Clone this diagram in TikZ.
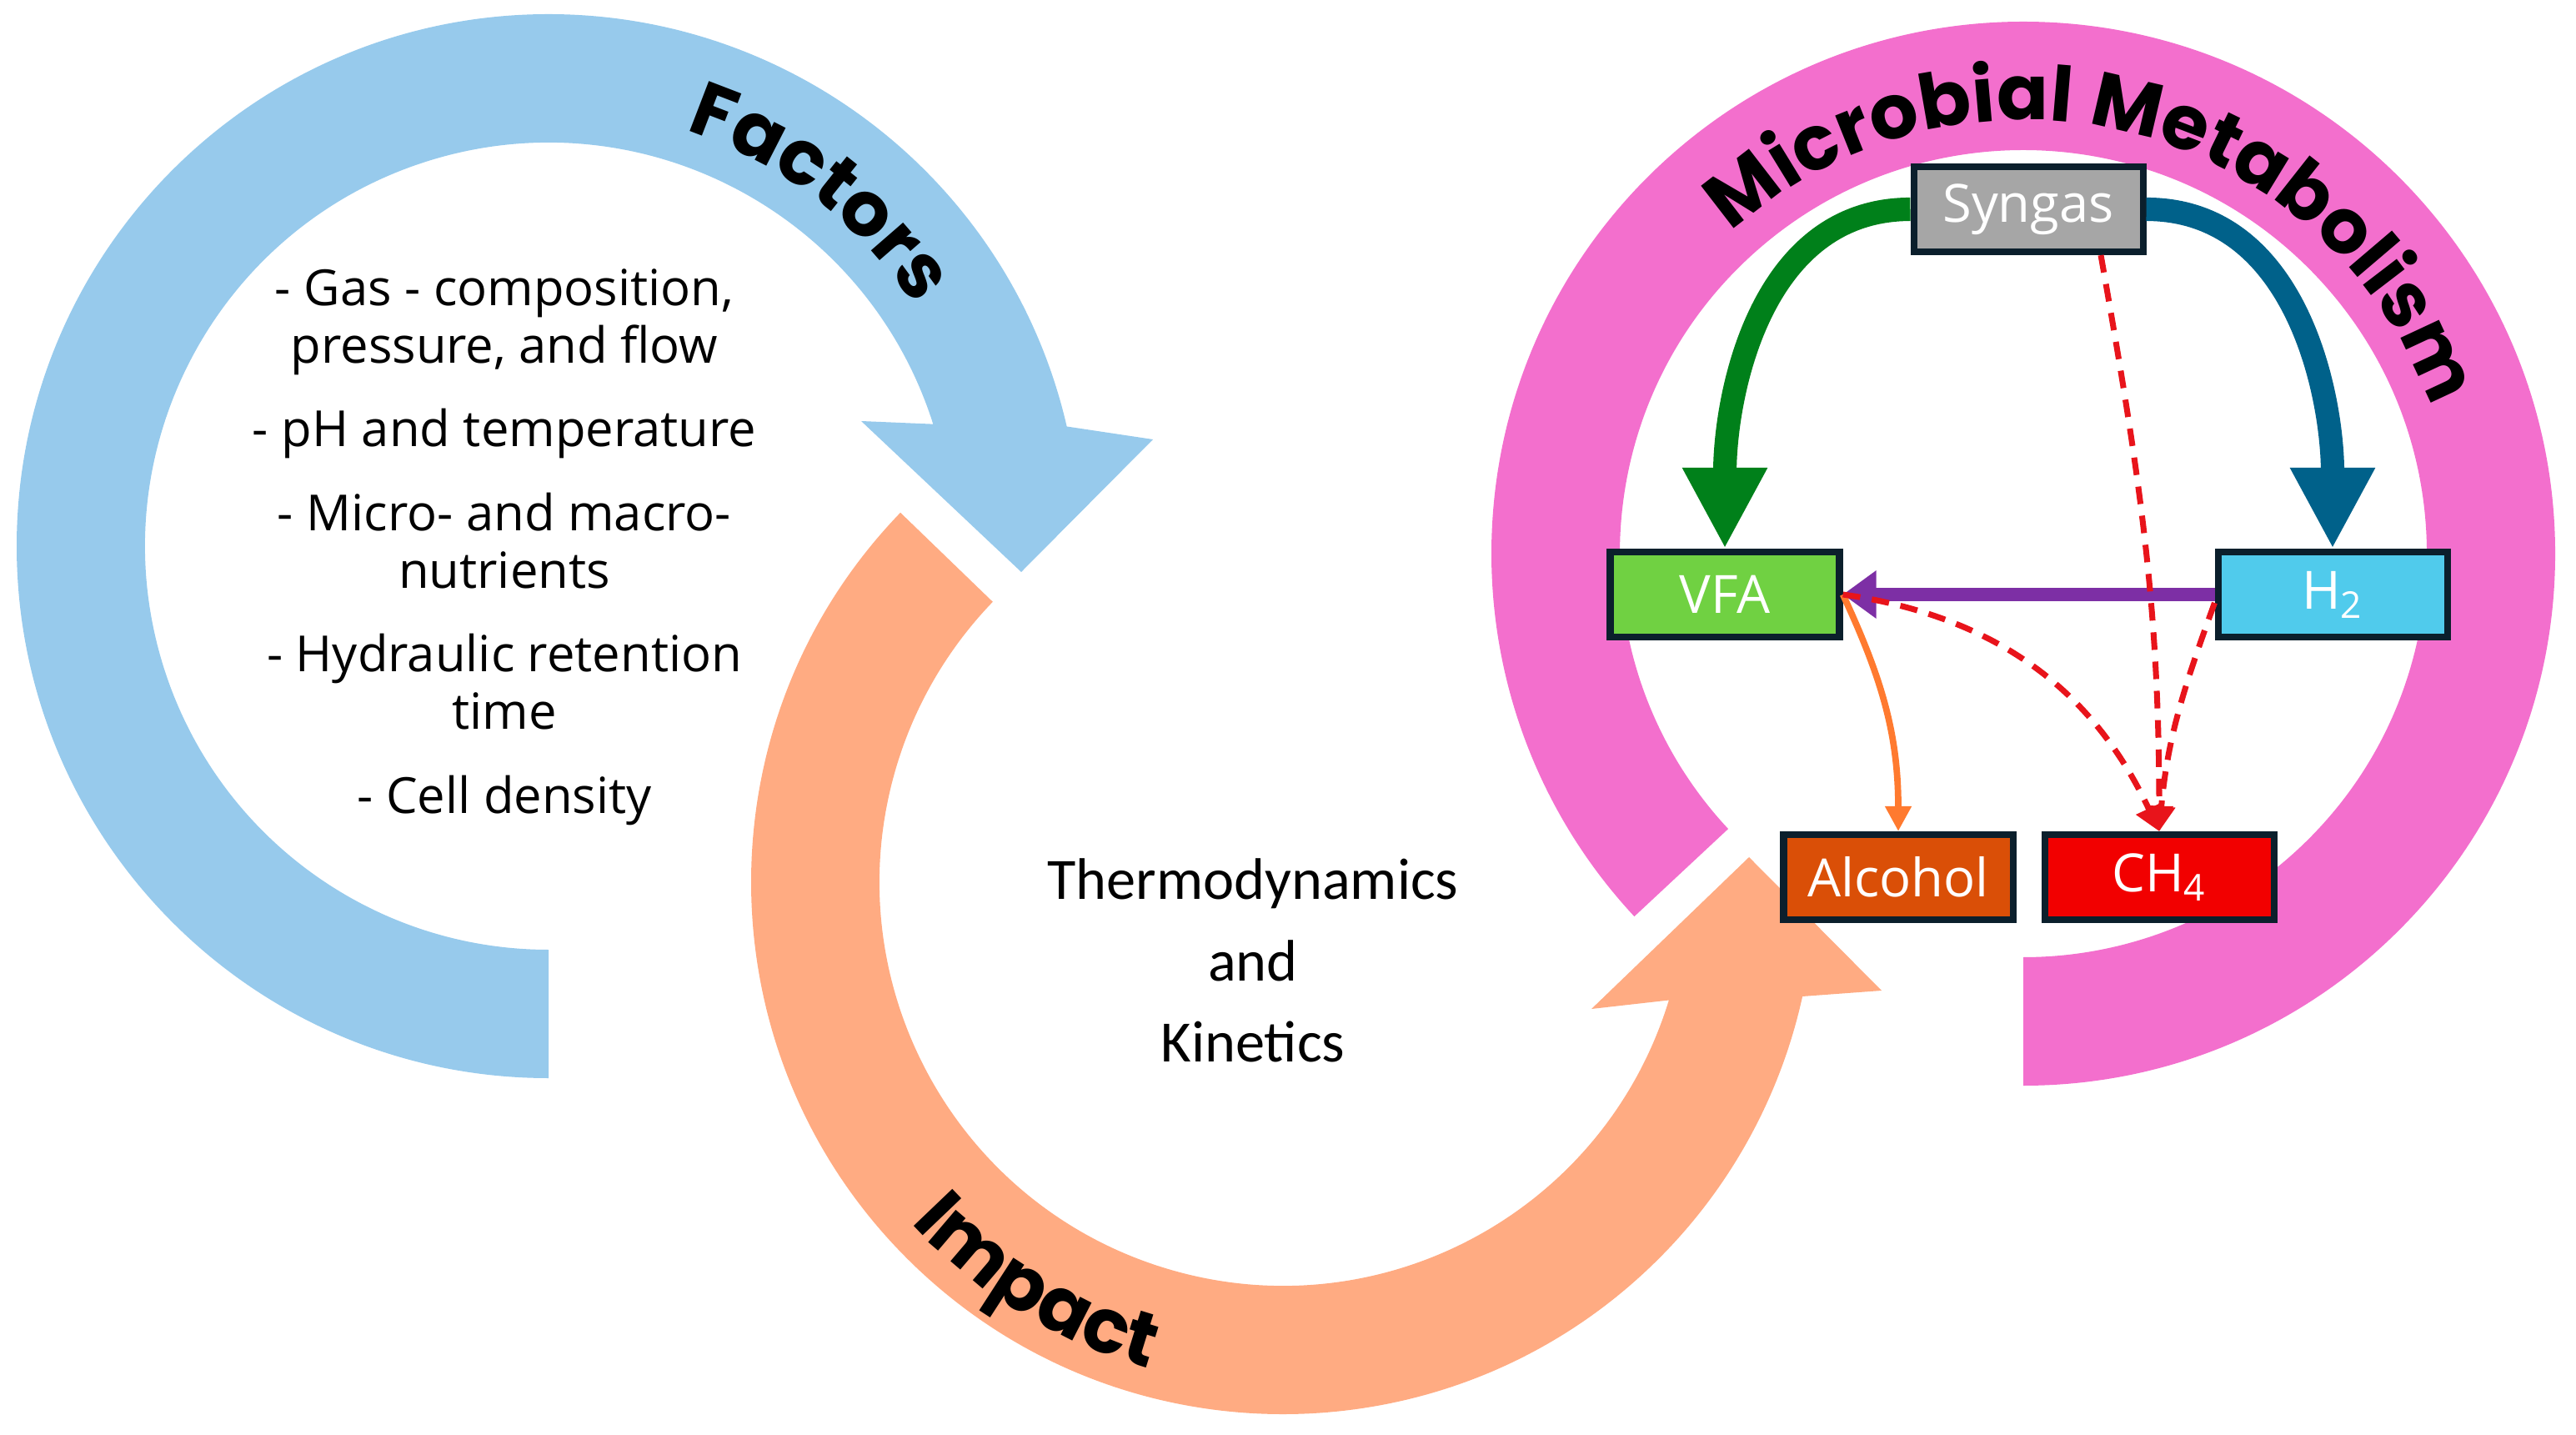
\documentclass[tikz,border=0pt]{standalone}
\usepackage{fontspec}
\setmainfont{Open Sans}
\newfontfamily\titlefont{Poppins}
\newfontfamily\narrowfont{Carlito}
\usepackage{tikz}
\usetikzlibrary{arrows.meta,positioning,calc,decorations.text}

\definecolor{factorblue}{HTML}{97CAEC}
\definecolor{impactorange}{HTML}{FFAB82}
\definecolor{metabpink}{HTML}{F36FCD}
\definecolor{boxline}{HTML}{0B1F2C}
\definecolor{syngasgray}{HTML}{A6A6A6}
\definecolor{vfagreen}{HTML}{70D142}
\definecolor{htwoblue}{HTML}{50CBEC}
\definecolor{alcoholorange}{HTML}{DA4F07}
\definecolor{methanered}{HTML}{F20000}
\definecolor{arrowgreen}{HTML}{00801A}
\definecolor{arrowblue}{HTML}{00618A}
\definecolor{arrowpurple}{HTML}{7D2FA5}
\definecolor{arroworange}{HTML}{FF7A2F}
\definecolor{arrowred}{HTML}{E8141B}

\tikzset{
    product/.style={draw=boxline,line width=2.3pt,minimum width=2.75cm,minimum height=1.02cm,
        text=white,font=\fontsize{18}{21}\selectfont},
    arctitle/.style={decorate,decoration={text along path,text align=center,
        text={|\titlefont\bfseries\fontsize{26}{26}\selectfont|#1}}},
    bigflow/.style={line width=8pt,-{Triangle[length=9.7mm,width=9.5mm]}},
    thinflow/.style={line width=2.2pt,-{Triangle[length=3mm,width=3mm]}},
    sideflow/.style={arrowred,line width=2pt,dash pattern=on 6pt off 4pt,
        -{Triangle[length=3mm,width=3.2mm]}}
}

\begin{document}
\begin{tikzpicture}
    \useasboundingbox (0,0) rectangle (30.9,17.2);
    \coordinate (cf) at (6.58,10.65);
    \coordinate (ci) at (15.39,6.62);
    \coordinate (cm) at (24.27,10.56);

    % three ring arrows
    \fill[factorblue] ($(cf)+(270:6.38)$) arc[start angle=270,end angle=13,radius=6.38]
        -- (13.83,11.93) -- (12.25,10.34) -- (10.33,12.15)
        -- ($(cf)+(17.6:4.84)$) arc[start angle=17.6,end angle=270,radius=4.84] -- cycle;
    \fill[impactorange] ($(ci)+(136:6.38)$) arc[start angle=136,end angle=347.6,radius=6.38]
        -- (22.57,5.32) -- (20.98,6.92) -- (19.09,5.10)
        -- ($(ci)+(343:4.84)$) arc[start angle=343,end angle=136,radius=4.84] -- cycle;
    \fill[metabpink] ($(cm)+(-90:6.38)$) arc[start angle=-90,end angle=223,radius=6.38]
        -- ($(cm)+(223:4.84)$) arc[start angle=223,end angle=-90,radius=4.84] -- cycle;

    % ring titles
    \path[arctitle=Factors] ($(cf)+(90:5.25)$) arc[start angle=90,end angle=15,radius=5.25];
    \path[arctitle=Microbial Metabolism] ($(cm)+(152:5.2)$) arc[start angle=152,end angle=0,radius=5.2];
    \path[arctitle=Impact] ($(ci)+(200:6.05)$) arc[start angle=200,end angle=277,radius=6.05];

    % texts
    \node (factorlist) at (6.05,10.64) [align=center,font=\fontsize{17}{19.6}\selectfont]
        {- Gas - composition,\\ pressure, and flow\\[9pt]
         - pH and temperature\\[9pt]
         - Micro- and macro-\\ nutrients\\[9pt]
         - Hydraulic retention\\ time\\[9pt]
         - Cell density};
    \node (thermo) at (15.03,5.68) [align=center,font=\narrowfont\fontsize{20}{27.8}\selectfont]
        {Thermodynamics\\ and\\ Kinetics};

    % metabolism boxes
    \node[product,fill=syngasgray]    (syngas)  at (24.33,14.69) {Syngas};
    \node[product,fill=vfagreen]      (vfa)     at (20.69,10.07) {VFA};
    \node[product,fill=htwoblue]      (htwo)    at (27.98,10.07) {H\textsubscript{2}};
    \node[product,fill=alcoholorange] (alcohol) at (22.77,6.68)  {Alcohol};
    \node[product,fill=methanered]    (methane) at (25.90,6.68)  {CH\textsubscript{4}};

    \coordinate (sgfoot) at ([xshift=8.7mm]syngas.south);
    \coordinate (htfoot) at ([yshift=-1mm]htwo.west);

    \draw[bigflow,arrowgreen] (syngas.west) to[out=180,in=90] (vfa.north);
    \draw[bigflow,arrowblue] (syngas.east) to[out=0,in=90] (htwo.north);
    \draw[arrowpurple,line width=4.5pt,-{Triangle[length=4mm,width=5.5mm]}] (htwo.west) -- (vfa.east);
    \draw[thinflow,arroworange] (vfa.east) to[out=-65,in=90] (alcohol.north);
    \draw[sideflow] (sgfoot) to[out=-80,in=90] (methane.north);
    \draw[sideflow] (htfoot) to[out=-110,in=85] (methane.north);
    \draw[sideflow] (vfa.east) to[out=-8,in=115] (methane.north);
\end{tikzpicture}
\end{document}
